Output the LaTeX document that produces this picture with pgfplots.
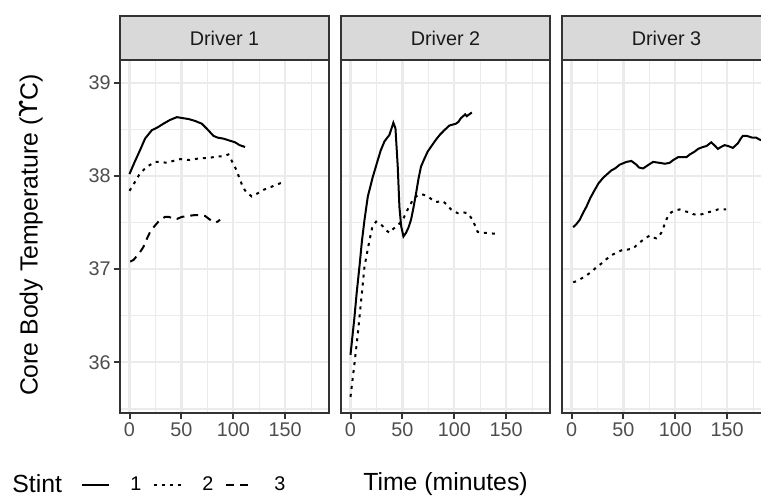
\documentclass[border=0pt]{standalone}
\usepackage{fontspec}
\setmainfont{Liberation Sans}
\newfontfamily\dejavu{DejaVu Sans}
\usepackage{pgfplots}
\pgfplotsset{compat=1.18}
\definecolor{gridc}{HTML}{EBEBEB}
\definecolor{frame}{HTML}{333333}
\definecolor{stripc}{HTML}{D9D9D9}
\definecolor{tickl}{HTML}{4D4D4D}
\definecolor{stript}{HTML}{1A1A1A}
\pgfplotsset{
  panel/.style={
    scale only axis, width=104.5pt, height=176.5pt, anchor=south west,
    xmin=-9.15, xmax=192.15, ymin=35.457, ymax=39.243,
    xtick={0,50,100,150}, ytick={36,37,38,39},
    minor xtick={25,75,125,175}, minor ytick={35.5,36.5,37.5,38.5},
    grid=both,
    major grid style={draw=gridc, line width=1.1pt},
    minor grid style={draw=gridc, line width=0.55pt},
    axis line style={draw=frame, line width=1pt},
    tick align=outside, major tick length=3pt, minor tick length=0pt,
    tick style={draw=frame, line width=1pt},
    xtick pos=left, ytick pos=left,
    ticklabel style={font=\fontsize{9.9}{11}\selectfont, text=tickl},
    xticklabel style={inner sep=1.5pt},
    yticklabel style={inner sep=1.5pt},
    /pgf/number format/assume math mode=true,
    no markers,
  },
  s1/.style={black, line width=1pt, solid},
  s2/.style={black, line width=1pt, dash pattern=on 1.5pt off 2.5pt},
  s3/.style={black, line width=1pt, dash pattern=on 4pt off 3pt},
}
\begin{document}
\begin{tikzpicture}
\useasboundingbox (0,0) rectangle (380.5pt,248.5pt);
% ---------------- Driver 1
\begin{axis}[panel, name=p1, at={(60pt,42pt)},
  legend style={at={(axis description cs:-0.187,-0.205)}, anchor=west, draw=none, fill=none,
    inner sep=0pt, legend columns=-1, font=\fontsize{9.9}{11}\selectfont,
    nodes={inner sep=1pt},
    /tikz/every even column/.append style={column sep=5pt},
    /tikz/every odd column/.append style={column sep=9pt}},
  legend image code/.code={\draw[#1] (0pt,0pt) -- (13.5pt,0pt);},
]
\addplot[s1] coordinates {(0,38.02) (5,38.15) (10.3,38.28) (15,38.40) (21.5,38.49) (27,38.52) (32.7,38.56) (39,38.60) (45.6,38.63) (51,38.62) (56.8,38.61) (63,38.59) (69.6,38.56) (75,38.50) (80.8,38.43) (85,38.41) (90.4,38.40) (96,38.38) (101.7,38.36) (106,38.33) (111.3,38.31)};
\addlegendentry{1}
\addplot[s2] coordinates {(0,37.84) (5,37.93) (10.3,38.03) (17,38.10) (24.7,38.15) (30,38.15) (36,38.14) (42,38.16) (48.8,38.18) (58,38.17) (68,38.19) (76,38.19) (84,38.21) (90,38.21) (95.2,38.23) (99,38.15) (103.2,38.06) (106,37.97) (109.6,37.87) (113,37.82) (117.7,37.78) (123,37.81) (128.9,37.85) (134,37.87) (140.1,37.90) (145,37.92) (149.7,37.94)};
\addlegendentry{2}
\addplot[s3] coordinates {(0.7,37.08) (4,37.10) (7,37.14) (10,37.18) (13.5,37.24) (16.5,37.32) (19.9,37.40) (24,37.46) (27.9,37.51) (31,37.54) (34.3,37.56) (38,37.56) (42.3,37.54) (46,37.54) (50.4,37.56) (56,37.57) (63.2,37.58) (68,37.58) (72.8,37.57) (77.6,37.53) (82.4,37.50) (85,37.51) (87.2,37.53)};
\addlegendentry{3}
\end{axis}
% ---------------- Driver 2
\begin{axis}[panel, name=p2, at={(170.5pt,42pt)}, yticklabels={}, ytick style={draw=none}]
\addplot[s1] coordinates {(0,36.08) (3.85,36.49) (6,36.75) (8.65,37.03) (11,37.30) (13.5,37.53) (16.7,37.78) (21.5,37.99) (26.3,38.17) (29,38.27) (32.7,38.37) (37.5,38.44) (41.3,38.57) (43.3,38.51) (45.5,38.10) (47.1,37.67) (48.8,37.46) (51,37.35) (53.5,37.39) (56,37.45) (58.3,37.53) (60.5,37.65) (63.1,37.81) (65.5,37.97) (67.9,38.10) (71,38.18) (74.3,38.26) (78,38.32) (82.4,38.39) (86,38.44) (90.4,38.49) (95.2,38.54) (101.6,38.56) (104,38.58) (106.4,38.62) (110.5,38.66) (112,38.64) (114.4,38.66) (116.9,38.68)};
\addplot[s2] coordinates {(0,35.63) (3.85,35.99) (7.1,36.31) (10.3,36.67) (13.5,37.03) (18.3,37.31) (21,37.45) (24.7,37.51) (28,37.49) (31.1,37.46) (34,37.42) (37.5,37.39) (41,37.43) (45.5,37.47) (50,37.52) (55.1,37.64) (59.9,37.74) (63,37.78) (66.3,37.80) (70,37.80) (74.3,37.78) (78,37.75) (82.4,37.72) (88.8,37.73) (93,37.69) (96.8,37.64) (103.2,37.60) (108,37.61) (112.8,37.60) (117.6,37.53) (122.4,37.40) (127,37.39) (132,37.39) (138,37.38) (143.3,37.38)};
\end{axis}
% ---------------- Driver 3
\begin{axis}[panel, name=p3, at={(281pt,42pt)}, yticklabels={}, ytick style={draw=none}]
\addplot[s1] coordinates {(1.6,37.45) (4.5,37.48) (8,37.53) (11,37.60) (14.4,37.67) (18,37.76) (22.4,37.85) (26,37.92) (30.5,37.98) (34.5,38.02) (38.5,38.06) (42,38.08) (46.4,38.12) (52.9,38.15) (57.7,38.16) (62.5,38.12) (65,38.09) (68.9,38.08) (73,38.11) (78.5,38.15) (84.9,38.14) (90,38.13) (94.5,38.14) (98,38.17) (102.6,38.20) (106,38.20) (110.6,38.20) (114,38.23) (118.6,38.26) (122,38.29) (126.6,38.31) (130,38.32) (134.6,38.36) (137.5,38.33) (141,38.29) (144,38.31) (147.4,38.33) (151,38.32) (155.4,38.30) (160.3,38.35) (163,38.40) (165.1,38.43) (168,38.43) (171.5,38.42) (174,38.41) (177.9,38.41) (181,38.39) (184,38.38)};
\addplot[s2] coordinates {(1.6,36.86) (5,36.87) (9.6,36.90) (14,36.93) (19.2,36.97) (24,37.02) (28.8,37.06) (34,37.11) (38.5,37.15) (44,37.18) (49.7,37.21) (54,37.21) (59.3,37.22) (63,37.26) (67.3,37.30) (71,37.33) (75.3,37.36) (78.5,37.34) (81.7,37.33) (84,37.35) (86.5,37.39) (89,37.46) (91.3,37.53) (93.5,37.58) (96.2,37.61) (100,37.63) (104.2,37.64) (109,37.62) (113.8,37.61) (117,37.59) (121.8,37.58) (126,37.59) (131.4,37.61) (136,37.62) (141,37.64) (145,37.64) (149,37.64)};
\end{axis}
% strips
\foreach \p/\t in {p1/Driver 1,p2/Driver 2,p3/Driver 3} {
  \draw[fill=stripc, draw=frame, line width=1pt] (\p.north west) rectangle ([yshift=22pt]\p.north east);
  \node[font=\fontsize{9.9}{11}\selectfont, text=stript] at ([yshift=11pt]\p.north) {\t};
}
% titles
\node[rotate=90, font=\fontsize{12.4}{14}\selectfont] at (15.5pt,131pt) {Core Body Temperature ({\dejavu ϒ}C)};
\node[font=\fontsize{12.4}{14}\selectfont] at (222.75pt,6.5pt) {Time (minutes)};
\node[font=\fontsize{12.4}{14}\selectfont, anchor=base west, inner sep=0pt] at (6pt,2pt) {Stint};
\end{tikzpicture}
\end{document}
